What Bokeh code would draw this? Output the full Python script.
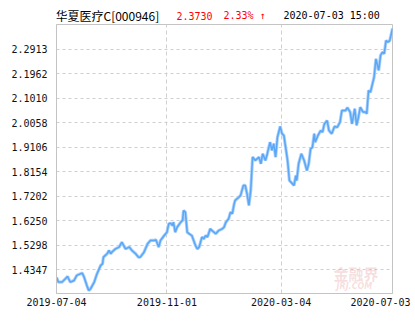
import pandas as pd
from bokeh.plotting import figure
from bokeh.layouts import column
from bokeh.models import (FixedTicker, Label, Range1d, DatetimeTickFormatter,
                          PrintfTickFormatter)
from bokeh.embed import file_html
from bokeh.resources import INLINE

start_date = "2019-07-04"
end_date = "2020-07-03"
day_offsets = [0, 2, 6, 10, 12, 13, 15, 19, 22, 26,
               28, 30, 33, 35, 37, 41, 44, 48, 50, 51,
               55, 57, 59, 60, 64, 68, 71, 73, 75, 79,
               82, 86, 89, 91, 95, 99, 102, 106, 108, 109,
               111, 113, 117, 120, 122, 124, 126, 127, 129, 131,
               135, 137, 138, 140, 142, 144, 147, 151, 153, 155,
               158, 160, 162, 164, 167, 169, 173, 176, 180, 182,
               184, 187, 189, 191, 193, 194, 198, 200, 203, 205,
               207, 209, 211, 213, 216, 220, 222, 224, 227, 229,
               232, 234, 236, 238, 240, 243, 245, 247, 251, 253,
               258, 260, 261, 263, 266, 269, 272, 274, 276, 278,
               280, 281, 284, 287, 289, 291, 294, 296, 299, 302,
               305, 308, 310, 314, 316, 319, 321, 324, 326, 328,
               330, 333, 336, 337, 339, 341, 345, 347, 350, 352,
               354, 356, 358, 360, 362, 365]
nav = [1.406, 1.387, 1.387, 1.401, 1.409, 1.401, 1.387, 1.393, 1.413, 1.419,
       1.422, 1.406, 1.374, 1.354, 1.361, 1.387, 1.419, 1.452, 1.458, 1.484,
       1.497, 1.510, 1.497, 1.503, 1.516, 1.523, 1.542, 1.529, 1.516, 1.523,
       1.510, 1.497, 1.484, 1.484, 1.503, 1.536, 1.549, 1.549, 1.551, 1.542,
       1.523, 1.549, 1.568, 1.581, 1.614, 1.616, 1.607, 1.620, 1.581, 1.600,
       1.620, 1.627, 1.665, 1.659, 1.581, 1.575, 1.568, 1.529, 1.516, 1.523,
       1.562, 1.555, 1.568, 1.562, 1.594, 1.587, 1.575, 1.587, 1.594, 1.600,
       1.620, 1.633, 1.659, 1.653, 1.691, 1.704, 1.717, 1.724, 1.763, 1.763,
       1.730, 1.685, 1.743, 1.873, 1.860, 1.873, 1.847, 1.886, 1.860, 1.886,
       1.931, 1.899, 1.925, 1.873, 1.950, 1.992, 1.964, 1.957, 1.860, 1.782,
       1.763, 1.801, 1.782, 1.847, 1.886, 1.860, 1.821, 1.847, 1.905, 1.911,
       1.964, 1.931, 1.957, 1.976, 1.970, 2.002, 2.015, 1.976, 1.964, 1.992,
       1.989, 2.009, 2.054, 2.054, 2.065, 2.048, 2.002, 2.061, 1.996, 2.028,
       2.067, 2.048, 2.048, 2.041, 2.132, 2.125, 2.184, 2.255, 2.210, 2.268,
       2.281, 2.275, 2.326, 2.320, 2.326, 2.373]
y_ticks = [1.4347, 1.5298, 1.6250, 1.7202, 1.8154, 1.9106, 2.0058, 2.1010, 2.1962, 2.2913]
x_tick_labels = ["2019-07-04", "2019-11-01", "2020-03-04", "2020-07-03"]
fund_name = "华夏医疗C[000946]"
last_nav = "2.3730"
change_text = "2.33% ↑"
timestamp_text = "2020-07-03 15:00"

Y0, Y1 = 1.3426, 2.3885


def ms(d):
    return pd.Timestamp(d).value / 1e6


x_vals = pd.Timestamp(start_date) + pd.to_timedelta(day_offsets, unit="D")
X0, X1 = ms(start_date), ms(end_date)
ms_per_px = (X1 - X0) / 336.0

# ---------- header strip ----------
h = figure(width=415, height=23, output_backend="svg", toolbar_location=None,
           x_range=Range1d(0, 1), y_range=Range1d(0, 1),
           x_axis_location=None, y_axis_location=None,
           min_border_left=0, min_border_right=0, min_border_top=0, min_border_bottom=0)
h.grid.visible = False
h.outline_line_color = None
h.background_fill_color = "white"
h.border_fill_color = "white"
ty = 15
h.add_layout(Label(x=55, y=ty, x_units="canvas", y_units="canvas", text=fund_name,
                   text_font="Noto Sans CJK SC", text_font_size="12px", text_color="#000000",
                   text_baseline="middle"))
h.add_layout(Label(x=176, y=ty, x_units="canvas", y_units="canvas", text=last_nav,
                   text_font="DejaVu Sans Mono", text_font_size="10px", text_color="#ff0000",
                   text_baseline="middle"))
h.add_layout(Label(x=223, y=ty, x_units="canvas", y_units="canvas", text=change_text,
                   text_font="DejaVu Sans Mono", text_font_size="10px", text_color="#ff0000",
                   text_baseline="middle"))
h.add_layout(Label(x=283, y=ty, x_units="canvas", y_units="canvas", text=timestamp_text,
                   text_font="DejaVu Sans Mono", text_font_size="10px", text_color="#000000",
                   text_baseline="middle"))

# ---------- main chart ----------
p = figure(width=415, height=307, x_axis_type="datetime", output_backend="svg",
           toolbar_location=None,
           x_range=Range1d(X0, X1), y_range=Range1d(Y0, Y1),
           min_border_left=56, min_border_right=23, min_border_top=1, min_border_bottom=37)
p.background_fill_color = "white"
p.border_fill_color = "white"
p.outline_line_color = "#c4c4c4"
p.outline_line_width = 1

grid_c = "#cfcfcf"
p.ygrid.ticker = FixedTicker(ticks=y_ticks)
p.ygrid.grid_line_color = grid_c
p.ygrid.grid_line_dash = "3 3"
p.xgrid.ticker = FixedTicker(ticks=[ms(d) for d in x_tick_labels[1:3]])
p.xgrid.grid_line_color = grid_c
p.xgrid.grid_line_dash = "4 3"

for ax in (p.xaxis[0], p.yaxis[0]):
    ax.axis_line_color = "#c4c4c4"
    ax.major_tick_line_color = None
    ax.minor_tick_line_color = None
    ax.major_label_text_font = "DejaVu Sans Mono"
    ax.major_label_text_font_size = "10px"
    ax.major_label_text_color = "#111111"
p.yaxis.major_label_standoff = 3
p.xaxis.major_label_standoff = -2

p.yaxis.ticker = FixedTicker(ticks=y_ticks)
p.yaxis.formatter = PrintfTickFormatter(format="%.4f")

# the last date label is drawn shifted left so that it fits in the picture
last_tick_pos = X1 - 12 * ms_per_px
x_ticks = [ms(d) for d in x_tick_labels[:3]] + [last_tick_pos]
p.xaxis.ticker = FixedTicker(ticks=x_ticks)
fmt = "%Y-%m-%d"
p.xaxis.formatter = DatetimeTickFormatter(microseconds=fmt, milliseconds=fmt, seconds=fmt,
                                          minsec=fmt, minutes=fmt, hourmin=fmt, hours=fmt,
                                          days=fmt, months=fmt, years=fmt)
p.xaxis.major_label_overrides = {last_tick_pos: x_tick_labels[3]}

# watermark (canvas pixel units of the main figure, which starts 23px down)
p.add_layout(Label(x=333, y=250, x_units="canvas", y_units="canvas", text="金融界",
                   text_font="Noto Sans CJK SC", text_font_size="15px", text_color="#e8a0a0",
                   text_alpha=0.35, text_baseline="middle", text_font_style="bold"))
p.add_layout(Label(x=336, y=263, x_units="canvas", y_units="canvas", text="JRJ.COM",
                   text_font="DejaVu Sans", text_font_size="8px", text_color="#e8a0a0",
                   text_alpha=0.35, text_baseline="middle", text_font_style="bold italic"))

p.line(x_vals, nav, line_color="#a9d0fb", line_width=3.2)
p.line(x_vals, nav, line_color="#5aa6f7", line_width=1.5)

layout = column(h, p, spacing=0)
open("out.html", "w").write(file_html(layout, INLINE))
